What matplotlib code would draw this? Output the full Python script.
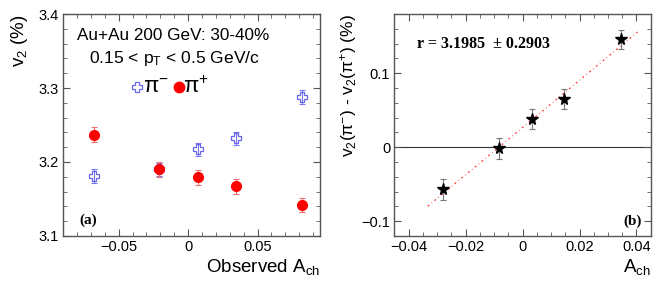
import numpy as np
import matplotlib
matplotlib.use("Agg")
import matplotlib.pyplot as plt
from matplotlib.ticker import MultipleLocator, FuncFormatter

plt.rcParams['font.family'] = ['Liberation Sans', 'DejaVu Sans']
plt.rcParams['mathtext.fontset'] = 'custom'
plt.rcParams['mathtext.rm'] = 'Liberation Sans'
plt.rcParams['mathtext.it'] = 'Liberation Sans:italic'
plt.rcParams['mathtext.default'] = 'regular'

# ---- Panel (a) data ----
ach_obs = [-0.068, -0.021, 0.0072, 0.0348, 0.082]
v2_pim = [3.181, 3.190, 3.217, 3.232, 3.288]
v2_pim_err = [0.009, 0.009, 0.009, 0.009, 0.009]
v2_pip = [3.237, 3.190, 3.179, 3.167, 3.142]
v2_pip_err = [0.010, 0.010, 0.010, 0.010, 0.009]

# ---- Panel (b) data ----
ach = [-0.028, -0.0084, 0.0032, 0.0147, 0.0344]
dv2 = [-0.057, -0.0014, 0.038, 0.065, 0.146]
dv2_err = [0.014, 0.014, 0.013, 0.013, 0.013]
fit_slope = 3.1985
fit_slope_err = 0.2903
fit_intercept = 0.0266
fit_range = [-0.0333, 0.0404]

fig = plt.figure(figsize=(6.64, 2.87), dpi=100)
ax1 = fig.add_axes([0.095, 0.178, 0.387, 0.773])
ax2 = fig.add_axes([0.594, 0.178, 0.386, 0.773])

frame_col = '#555555'

def style(ax):
    for s in ax.spines.values():
        s.set_color(frame_col)
        s.set_linewidth(1.0)
    ax.tick_params(which='both', direction='in', top=True, right=True,
                   color=frame_col, labelsize=10.5, pad=3)
    ax.tick_params(which='major', length=5)
    ax.tick_params(which='minor', length=3)

def fmt(v, p):
    if abs(v) < 1e-12:
        return '0'
    s = ('%g' % v)
    return s.replace('-', '\u2212')

# Panel (a)
style(ax1)
ax1.errorbar(ach_obs, v2_pim, yerr=v2_pim_err, fmt='none', ecolor='#7777ee',
             elinewidth=0.8, capsize=2.5, capthick=0.8, zorder=2)
ax1.plot(ach_obs, v2_pim, linestyle='none', marker='P', markersize=7.5,
         markerfacecolor='none', markeredgecolor='#6666ee', markeredgewidth=0.9, zorder=3)
ax1.errorbar(ach_obs, v2_pip, yerr=v2_pip_err, fmt='none', ecolor='#f07070',
             elinewidth=0.8, capsize=2.5, capthick=0.8, zorder=4)
ax1.plot(ach_obs, v2_pip, linestyle='none', marker='o', markersize=7,
         color='#ff0000', zorder=5)
ax1.set_xlim(-0.09, 0.095)
ax1.set_ylim(3.1, 3.4)
ax1.xaxis.set_major_locator(MultipleLocator(0.05))
ax1.xaxis.set_minor_locator(MultipleLocator(0.01))
ax1.yaxis.set_major_locator(MultipleLocator(0.1))
ax1.yaxis.set_minor_locator(MultipleLocator(0.02))
ax1.xaxis.set_major_formatter(FuncFormatter(fmt))
ax1.yaxis.set_major_formatter(FuncFormatter(lambda v, p: '%.1f' % v))
ax1.set_xlabel('Observed A$_{ch}$', fontsize=13.5, loc='right', labelpad=2)
ax1.set_ylabel('v$_{2}$ (%)', fontsize=13.5, loc='top', labelpad=6)
ax1.text(0.428, 0.905, 'Au+Au 200 GeV: 30-40%', transform=ax1.transAxes,
         ha='center', va='center', fontsize=12.3)
ax1.text(0.434, 0.80, '0.15 < p$_{T}$ < 0.5 GeV/c', transform=ax1.transAxes,
         ha='center', va='center', fontsize=12.6)
# legend
ax1.plot([0.287], [0.67], transform=ax1.transAxes, marker='P', markersize=7.5,
         markerfacecolor='none', markeredgecolor='#6666ee', markeredgewidth=0.9,
         linestyle='none', clip_on=False)
ax1.text(0.31, 0.67, '\u03c0$^{-}$', transform=ax1.transAxes, ha='left', va='center',
         fontsize=16)
ax1.plot([0.45], [0.67], transform=ax1.transAxes, marker='o', markersize=7.5,
         color='#ff0000', linestyle='none', clip_on=False)
ax1.text(0.468, 0.67, '\u03c0$^{+}$', transform=ax1.transAxes, ha='left', va='center',
         fontsize=16)
ax1.text(0.065, 0.07, '(a)', transform=ax1.transAxes, ha='left', va='center',
         fontsize=11, fontweight='bold', family='Liberation Serif')

# Panel (b)
style(ax2)
ax2.axhline(0, color='#333333', linewidth=0.8, zorder=1)
xf = np.array(fit_range)
ax2.plot(xf, fit_intercept + fit_slope * xf, color='#ff3333', linewidth=0.9,
         linestyle=(0, (1.5, 2.5, 0.5, 2.5)), zorder=2)
ax2.errorbar(ach, dv2, yerr=dv2_err, fmt='none', ecolor='#777777',
             elinewidth=0.8, capsize=2.5, capthick=0.8, zorder=3)
ax2.plot(ach, dv2, linestyle='none', marker='*', markersize=8.5, color='black', zorder=4)
ax2.set_xlim(-0.045, 0.045)
ax2.set_ylim(-0.12, 0.18)
ax2.xaxis.set_major_locator(MultipleLocator(0.02))
ax2.xaxis.set_minor_locator(MultipleLocator(0.005))
ax2.yaxis.set_major_locator(MultipleLocator(0.1))
ax2.yaxis.set_minor_locator(MultipleLocator(0.02))
ax2.xaxis.set_major_formatter(FuncFormatter(fmt))
ax2.yaxis.set_major_formatter(FuncFormatter(fmt))
ax2.set_xlabel('A$_{ch}$', fontsize=13.5, loc='right', labelpad=2)
ax2.set_ylabel('v$_{2}$(\u03c0$^{-}$) - v$_{2}$(\u03c0$^{+}$) (%)', fontsize=12.5,
               loc='top', labelpad=2)
ax2.text(0.09, 0.865, 'r = %.4f  \u00b1 %.4f' % (fit_slope, fit_slope_err),
         transform=ax2.transAxes, ha='left', va='center', fontsize=11.5,
         fontweight='bold', family='Liberation Serif')
ax2.text(0.965, 0.065, '(b)', transform=ax2.transAxes, ha='right', va='center',
         fontsize=11, fontweight='bold', family='Liberation Serif')

fig.savefig('out.png', dpi=100)
